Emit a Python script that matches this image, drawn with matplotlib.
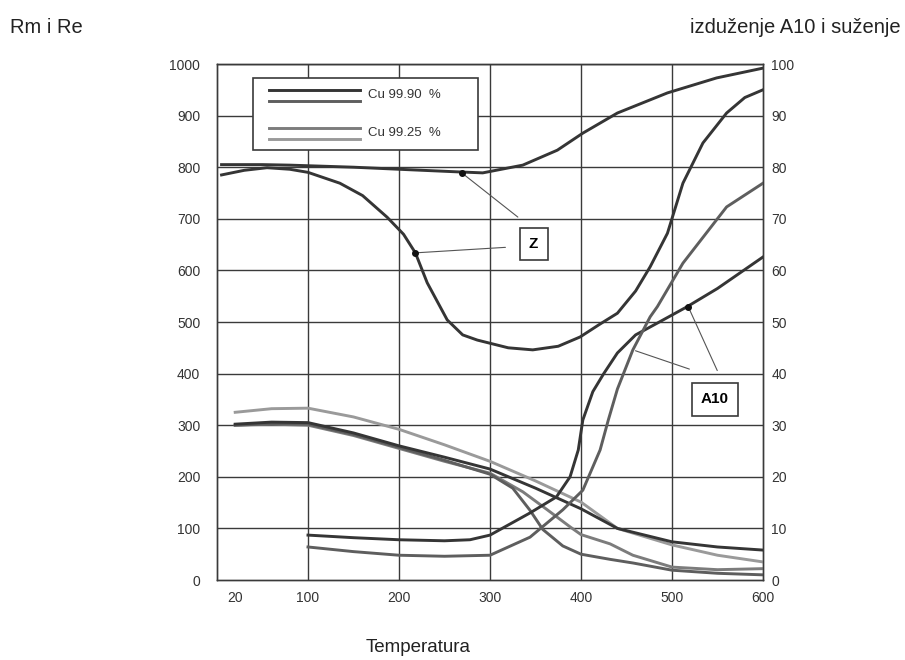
import matplotlib
matplotlib.use("Agg")
import matplotlib.pyplot as plt
from matplotlib.patches import Rectangle

# ---------------- data ----------------
# strength curves (left axis, Rm i Re)
t_s1 = [20, 60, 100, 150, 200, 250, 300, 350, 400, 440, 500, 550, 600]
rm_9990 = [302, 306, 305, 285, 260, 238, 215, 178, 138, 100, 74, 64, 58]
t_s2 = [20, 60, 100, 150, 200, 250, 300, 350, 400, 440, 500, 550, 600]
rm_9925 = [325, 332, 333, 316, 292, 262, 230, 192, 151, 100, 68, 48, 35]
t_s3 = [20, 60, 100, 150, 200, 250, 300, 325, 344, 358, 380, 400, 432, 457, 500, 550, 600]
re_9990 = [300, 303, 302, 282, 257, 232, 205, 178, 135, 98, 66, 50, 40, 33, 19, 13, 10]
t_s4 = [20, 60, 100, 150, 200, 250, 300, 336, 363, 388, 400, 432, 457, 500, 550, 600]
re_9925 = [300, 302, 300, 280, 255, 230, 207, 171, 136, 103, 88, 70, 48, 25, 20, 22]

# reduction of area Z (right axis, %)
t_z1 = [5, 50, 80, 150, 200, 264, 292, 336, 374, 402, 440, 495, 549, 600]
z_9990 = [80.5, 80.5, 80.4, 80.0, 79.6, 79.1, 78.9, 80.4, 83.3, 86.6, 90.5, 94.4, 97.3, 99.2]
t_z2 = [5, 30, 55, 80, 100, 135, 160, 187, 205, 218, 231, 253, 270, 286, 320, 347, 375, 399,
        420, 440, 460, 476, 495, 512, 534, 560, 580, 600]
z_9925 = [78.5, 79.4, 79.9, 79.6, 79.0, 76.9, 74.5, 70.3, 67.0, 63.4, 57.6, 50.4, 47.5, 46.5,
          45.0, 44.6, 45.3, 47.1, 49.5, 51.7, 56.0, 60.7, 67.2, 76.9, 84.7, 90.5, 93.5, 95.0]

# elongation A10 (right axis, %)
t_a1 = [100, 150, 200, 250, 278, 300, 344, 373, 388, 397, 402, 413, 425, 440, 460, 484, 516, 550, 600]
a_9990 = [8.7, 8.2, 7.8, 7.6, 7.8, 8.7, 13.0, 16.1, 20.0, 25.2, 31.0, 36.5, 40.0, 44.0, 47.5,
          49.8, 52.9, 56.5, 62.6]
t_a2 = [100, 150, 200, 250, 300, 344, 380, 402, 421, 430, 440, 457, 476, 484, 512, 560, 600]
a_9925 = [6.4, 5.5, 4.8, 4.6, 4.8, 8.3, 13.6, 17.4, 25.2, 31.0, 37.0, 44.6, 51.0, 53.0, 61.4, 72.3, 76.9]

x_ticks = [20, 100, 200, 300, 400, 500, 600]
left_ticks = list(range(0, 1001, 100))
right_ticks = list(range(0, 101, 10))
legend_labels = ["Cu 99.90  %", "Cu 99.25  %"]

# ---------------- styling ----------------
FONT = ["Liberation Sans Narrow", "Liberation Sans", "DejaVu Sans"]
plt.rcParams["font.family"] = FONT

c_dark = "#353535"
c_mid = "#5e5e5e"
c_light = "#7c7c7c"
c_lighter = "#9a9a9a"
grid_c = "#3a3a3a"

fig = plt.figure(figsize=(9.05, 6.6), dpi=100)
ax = fig.add_axes([217 / 905, 80 / 660, 546 / 905, 516 / 660])
ax2 = ax.twinx()

ax.set_xlim(0, 600)
ax.set_ylim(0, 1000)
ax2.set_ylim(0, 100)

ax.set_xticks(x_ticks)
ax.set_xticklabels([str(v) for v in x_ticks])
ax.set_yticks(left_ticks)
ax2.set_yticks(right_ticks)

for v in left_ticks[1:]:
    ax.axhline(v, color=grid_c, lw=1.0, zorder=1)
for v in x_ticks[1:-1]:
    ax.axvline(v, color=grid_c, lw=1.0, zorder=1)

for a in (ax, ax2):
    for s in a.spines.values():
        s.set_color(grid_c)
        s.set_linewidth(1.0)
    a.tick_params(length=0, labelsize=10, colors="#333333")
ax.tick_params(axis="y", pad=12)
ax.tick_params(axis="x", pad=8)
ax2.tick_params(axis="y", pad=6)

lw = 2.1
ax.plot(t_s2, rm_9925, color=c_lighter, lw=lw, zorder=3)
ax.plot(t_s4, re_9925, color=c_light, lw=lw, zorder=3)
ax.plot(t_s3, re_9990, color=c_mid, lw=lw, zorder=3)
ax.plot(t_s1, rm_9990, color=c_dark, lw=lw, zorder=3)

ax2.plot(t_z1, z_9990, color=c_dark, lw=lw, zorder=3)
ax2.plot(t_z2, z_9925, color=c_dark, lw=lw, zorder=3)
ax2.plot(t_a1, a_9990, color=c_dark, lw=lw, zorder=3)
ax2.plot(t_a2, a_9925, color=c_mid, lw=lw, zorder=3)

# annotations Z
bbox = dict(boxstyle="square,pad=0.6", fc="white", ec=grid_c, lw=1.2)
ax2.plot([269], [78.9], "o", color="#111111", ms=4, zorder=5)
ax2.plot([218], [63.4], "o", color="#111111", ms=4, zorder=5)
ax2.annotate("", xy=(269, 78.9), xytext=(333, 70.0),
             arrowprops=dict(arrowstyle="-", color="#555555", lw=0.8), zorder=4)
ax2.annotate("", xy=(218, 63.4), xytext=(320, 64.5),
             arrowprops=dict(arrowstyle="-", color="#555555", lw=0.8), zorder=4)
ax2.text(348, 65.1, "Z", ha="center", va="center", fontsize=11, fontweight="bold",
         family=["Liberation Sans", "DejaVu Sans"], bbox=bbox, zorder=6)

# annotations A10
ax2.plot([518], [52.9], "o", color="#111111", ms=4, zorder=5)
ax2.annotate("", xy=(518, 52.9), xytext=(551, 40.1),
             arrowprops=dict(arrowstyle="-", color="#555555", lw=0.8), zorder=4)
ax2.annotate("", xy=(457, 44.6), xytext=(522, 40.7),
             arrowprops=dict(arrowstyle="-", color="#555555", lw=0.8), zorder=4)
ax2.text(547, 35.0, "A10", ha="center", va="center", fontsize=11, fontweight="bold",
         family=["Liberation Sans", "DejaVu Sans"], bbox=bbox, zorder=6)

# manual legend (two lines per material)
leg_ax = ax2
leg_ax.add_patch(Rectangle((0.066, 0.833), 0.412, 0.140, transform=ax.transAxes,
                           fc="white", ec=grid_c, lw=1.2, zorder=7))
leg_rows = [(0.950, 0.928, c_dark, c_mid, 0.939),
            (0.876, 0.855, c_light, c_lighter, 0.866)]
for (y1, y2, ca, cb, yt), lab in zip(leg_rows, legend_labels):
    leg_ax.plot([0.096, 0.262], [y1, y1], transform=ax.transAxes, color=ca, lw=lw, zorder=8)
    leg_ax.plot([0.096, 0.262], [y2, y2], transform=ax.transAxes, color=cb, lw=lw, zorder=8)
    leg_ax.text(0.277, yt, lab, transform=ax.transAxes, ha="left", va="center",
                fontsize=9.5, color="#333333", zorder=8)

# titles
fig.text(0.011, 0.958, "Rm i Re", ha="left", va="center", fontsize=14.5,
         family=["Liberation Sans", "DejaVu Sans"], color="#222222")
fig.text(0.995, 0.958, "izduženje A10 i suženje", ha="right", va="center", fontsize=14.5,
         family=["Liberation Sans", "DejaVu Sans"], color="#222222")
fig.text(418 / 905, 1 - 648 / 660, "Temperatura", ha="center", va="center", fontsize=13.5,
         family=["Liberation Sans", "DejaVu Sans"], color="#222222")

fig.savefig("out.png", dpi=100, facecolor="white")
